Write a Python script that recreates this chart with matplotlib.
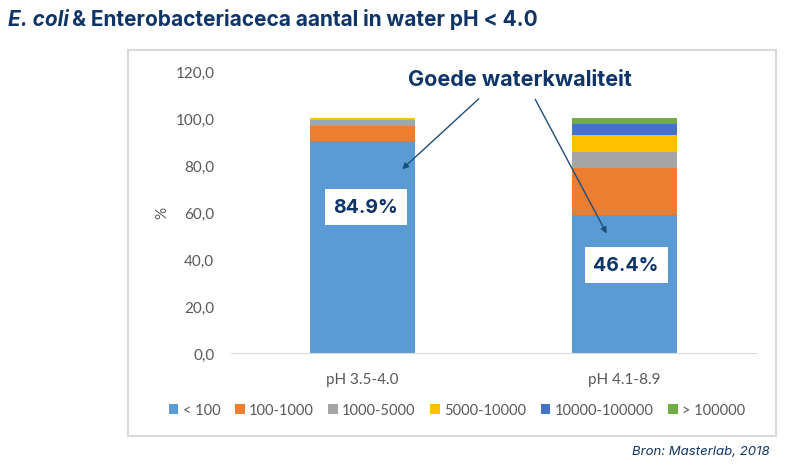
import matplotlib.pyplot as plt
import numpy as np

categories = ['pH 3.5-4.0', 'pH 4.1-8.9']
series_names = ['< 100', '100-1000', '1000-5000', '5000-10000', '10000-100000', '> 100000']
values = {
    '< 100':        [90.2, 58.7],
    '100-1000':     [6.5, 20.2],
    '1000-5000':    [2.6, 6.8],
    '5000-10000':   [0.7, 7.2],
    '10000-100000': [0.0, 4.5],
    '> 100000':     [0.0, 2.6],
}
colors = ['#5B9BD5', '#ED7D31', '#A5A5A5', '#FFC000', '#4472C4', '#70AD47']
box_labels = ['84.9%', '46.4%']
yticks = [0, 20, 40, 60, 80, 100, 120]

navy = '#0E3468'
grey = '#595959'

fig = plt.figure(figsize=(8, 4.77), dpi=100)

# chart frame (light grey border like the Excel chart area)
frame = plt.Rectangle((128 / 800, 1 - 437 / 477), (776 - 128) / 800, (437 - 51) / 477,
                      transform=fig.transFigure, fill=False, edgecolor='#D9D9D9', linewidth=1.5)
fig.patches.append(frame)

ax = fig.add_axes([231 / 800, 1 - 354 / 477, (756 - 231) / 800, (354 - 72) / 477])
x = np.arange(len(categories))
bottom = np.zeros(len(categories))
for name, c in zip(series_names, colors):
    v = np.array(values[name])
    ax.bar(x, v, 0.4, bottom=bottom, color=c, label=name, zorder=2)
    bottom += v

ax.set_xlim(-0.5, 1.5)
ax.set_ylim(0, 120)
ax.set_yticks(yticks)
ax.set_yticklabels([f'{t},0' for t in yticks], fontsize=11, color=grey, family='Lato')
ax.set_xticks(x)
ax.set_xticklabels(categories, fontsize=11, color=grey, family='Lato')
ax.tick_params(axis='both', length=0, pad=12)
ax.tick_params(axis='x', pad=14)
for s in ['top', 'right', 'left']:
    ax.spines[s].set_visible(False)
ax.spines['bottom'].set_color('#D9D9D9')
ax.set_ylabel('%', fontsize=11, color=grey, family='Lato', labelpad=4)

# value boxes on the bars
box_x = [0.014, 1.005]
box_y = [62.1, 37.4]
for xi, yi, lab in zip(box_x, box_y, box_labels):
    ax.text(xi, yi, lab, ha='center', va='center', fontsize=14, fontweight='bold',
            color=navy, family='Inter', zorder=5,
            bbox=dict(boxstyle='square,pad=0.45', fc='white', ec='none'))

# annotation with arrows
arrow = dict(arrowstyle='-|>', color='#1F4E79', lw=1.0, mutation_scale=9)
ax.annotate('', xy=(0.144, 77.4), xytext=(0.452, 109), arrowprops=arrow)
ax.annotate('', xy=(0.936, 49.8), xytext=(0.654, 109), arrowprops=arrow)
ax.text(0.601, 116.6, 'Goede waterkwaliteit', ha='center', va='center', fontsize=15.5,
        fontweight='bold', color=navy, family='Inter')

fig.legend(loc='center', bbox_to_anchor=(457 / 800, 1 - 411 / 477), ncol=6, frameon=False,
           prop={'family': 'Lato', 'size': 10.5}, labelcolor=grey, handlelength=0.65,
           handleheight=0.65, handletextpad=0.3, columnspacing=1.0)

fig.text(8 / 800, 1 - 20 / 477, 'E. coli', fontsize=15, fontweight='bold', style='italic',
         color=navy, family='Inter', va='center')
fig.text(72 / 800, 1 - 20 / 477, '& Enterobacteriaceca aantal in water pH < 4.0', fontsize=15,
         fontweight='bold', color=navy, family='Inter', va='center')
fig.text(770 / 800, 1 - 452 / 477, 'Bron: Masterlab, 2018', fontsize=9.5, style='italic',
         color=navy, family='Inter', ha='right', va='center')

fig.savefig('out.png', dpi=100)
